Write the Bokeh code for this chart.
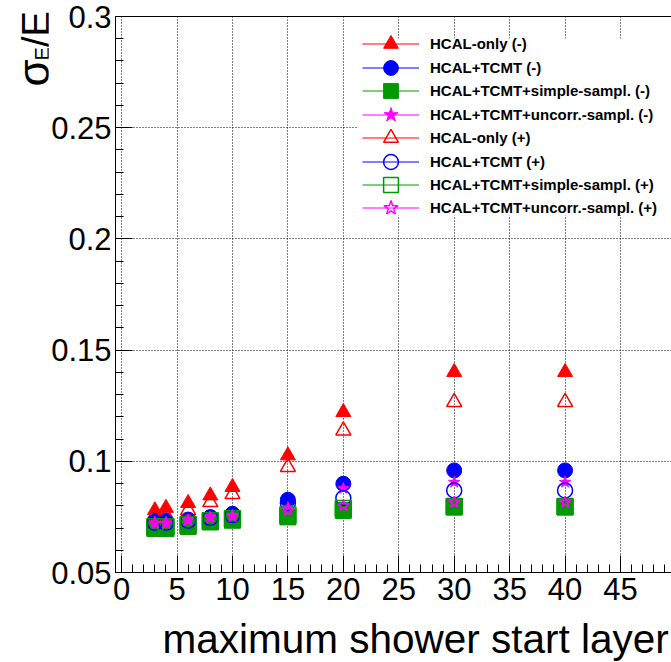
import math
from bokeh.plotting import figure
from bokeh.layouts import row, column
from bokeh.core.properties import value
from bokeh.models import (Legend, LegendItem, LinearAxis, FixedTicker, BoxAnnotation,
                          CustomJSTickFormatter, Range1d)
from bokeh.embed import file_html
from bokeh.resources import INLINE

# ---- data ----
shower_start = [3, 4, 6, 8, 10, 15, 20, 30, 40]
hcal_minus = [0.0779, 0.0790, 0.0812, 0.0846, 0.0884, 0.1026, 0.1221, 0.1401, 0.1401]
tcmt_minus = [0.0733, 0.0733, 0.0738, 0.0749, 0.0764, 0.0827, 0.0899, 0.0959, 0.0959]
simple_minus = [0.0698, 0.0698, 0.0707, 0.0727, 0.0735, 0.0750, 0.0779, 0.0794, 0.0794]
uncorr_minus = [0.0727, 0.0726, 0.0741, 0.0752, 0.0757, 0.0792, 0.0878, 0.0906, 0.0906]
hcal_plus = [0.0749, 0.0757, 0.0780, 0.0816, 0.0852, 0.0974, 0.1138, 0.1266, 0.1266]
tcmt_plus = [0.0724, 0.0724, 0.0733, 0.0745, 0.0758, 0.0812, 0.0835, 0.0869, 0.0869]
simple_plus = [0.0706, 0.0706, 0.0716, 0.0733, 0.0742, 0.0758, 0.0788, 0.0797, 0.0797]
uncorr_plus = [0.0721, 0.0721, 0.0735, 0.0747, 0.0752, 0.0780, 0.0801, 0.0816, 0.0816]

labels = ["HCAL-only (-)", "HCAL+TCMT (-)", "HCAL+TCMT+simple-sampl. (-)",
          "HCAL+TCMT+uncorr.-sampl. (-)", "HCAL-only (+)", "HCAL+TCMT (+)",
          "HCAL+TCMT+simple-sampl. (+)", "HCAL+TCMT+uncorr.-sampl. (+)"]
values = [hcal_minus, tcmt_minus, simple_minus, uncorr_minus,
          hcal_plus, tcmt_plus, simple_plus, uncorr_plus]

x_ticks = [0, 5, 10, 15, 20, 25, 30, 35, 40, 45]
y_ticks = [0.05, 0.1, 0.15, 0.2, 0.25, 0.3]
x_title = "maximum shower start layer"
y_title = ["σ", "E", "/E"]

RED, BLUE, GREEN, MAGENTA = "#ff0000", "#0000ff", "#009900", "#ff00ff"
styles = [
    ("triangle", RED, True, 15),
    ("circle", BLUE, True, 15),
    ("square", GREEN, True, 16),
    ("star", MAGENTA, True, 12),
    ("triangle", RED, False, 15),
    ("circle", BLUE, False, 15),
    ("square", GREEN, False, 16),
    ("star", MAGENTA, False, 12),
]

FONT = "Liberation Sans"
LEFT_W = 48          # visible width of the y-title strip
STRIP_W = 60         # real width (overlapped by the main plot by STRIP_W-LEFT_W)
BOTTOM_H = 45
W, H = 671, 662

# ---------------- main plot ----------------
p = figure(width=W - LEFT_W, height=H - BOTTOM_H, output_backend="svg",
           toolbar_location=None,
           x_range=Range1d(-0.55, 49.6), y_range=Range1d(0.05, 0.3),
           min_border_left=113 - LEFT_W, min_border_right=0, min_border_top=16,
           min_border_bottom=BOTTOM_H)
p.outline_line_color = None
p.background_fill_color = "white"
p.border_fill_color = "white"

x_minor = [float(i) for i in range(0, 50)]
y_minor = [round(0.05 + 0.01 * i, 2) for i in range(26)]
xt = FixedTicker(ticks=x_ticks, minor_ticks=x_minor)
yt = FixedTicker(ticks=y_ticks, minor_ticks=y_minor)
p.xaxis[0].ticker = xt
p.yaxis[0].ticker = yt
p.xgrid[0].ticker = xt
p.ygrid[0].ticker = yt
p.yaxis[0].formatter = CustomJSTickFormatter(code="return String(parseFloat(tick.toFixed(3)));")

for ax in (p.xaxis[0], p.yaxis[0]):
    ax.major_tick_in = 17
    ax.major_tick_out = 0
    ax.minor_tick_in = 8
    ax.minor_tick_out = 0
    ax.major_tick_line_color = "black"
    ax.minor_tick_line_color = "black"
    ax.axis_line_color = "black"
    ax.axis_line_width = 1
    ax.major_label_text_font = FONT
    ax.major_label_text_font_size = "31px"
    ax.major_label_text_color = "black"
p.yaxis[0].major_label_standoff = 4
p.xaxis[0].major_label_standoff = 5

for g in (p.xgrid[0], p.ygrid[0]):
    g.grid_line_color = "black"
    g.grid_line_alpha = 1.0
    g.grid_line_dash = "1 2"
    g.grid_line_width = 1

top = LinearAxis(ticker=FixedTicker(ticks=[]), major_label_text_font_size="0px",
                 major_tick_out=0, major_tick_in=0, minor_tick_in=0, minor_tick_out=0,
                 axis_line_color="black", major_label_standoff=0)
p.add_layout(top, "above")

# white legend background box (screen units relative to the frame)
p.add_layout(BoxAnnotation(left=242, right=600, bottom=357, top=534,
                           left_units="screen", right_units="screen",
                           bottom_units="screen", top_units="screen",
                           fill_color="white", fill_alpha=1.0, line_color=None))

nan_y = [float("nan")] * len(shower_start)
for i, (lab, ys, (marker, color, filled, size)) in enumerate(zip(labels, values, styles)):
    r = p.scatter(x=shower_start, y=ys, marker=marker, size=size,
                  line_color=color, fill_color=color if filled else None,
                  line_width=1 if filled else 1.5)
    ln = p.line(x=shower_start, y=nan_y, line_color=color, line_width=1)
    center = 44 + 23.4 * i            # row centre, canvas px
    gh = 37
    leg = Legend(items=[LegendItem(label=lab, renderers=[ln, r])],
                 location=(360 - 113, round(572 - (center + gh / 2))),
                 glyph_width=57, glyph_height=gh, spacing=0, padding=0, margin=0,
                 label_standoff=11, label_text_font=FONT,
                 label_text_font_style="bold", label_text_font_size="15px",
                 label_text_color="black", background_fill_alpha=0,
                 border_line_color=None)
    p.add_layout(leg)

# ---------------- y title strip ----------------
pl = figure(width=STRIP_W, height=H, output_backend="svg", toolbar_location=None,
            x_range=Range1d(0, STRIP_W), y_range=Range1d(0, H),
            x_axis_type=None, y_axis_type=None, min_border=0)
pl.outline_line_color = None
pl.border_fill_color = "white"
# (text_baseline "middle": anchor = baseline - 0.31 * font size)
pl.text(x=[33.4], y=[H - 86], text=[y_title[0]], angle=math.pi / 2,
        text_align="left", text_baseline="middle",
        text_font=value(FONT), text_font_size="44px", text_color="black")
pl.text(x=[41.8], y=[H - 60], text=[y_title[1]], angle=math.pi / 2,
        text_align="left", text_baseline="middle",
        text_font=value(FONT), text_font_size="20px", text_color="black")
pl.text(x=[35.2], y=[H - 46.5], text=[y_title[2]], angle=math.pi / 2,
        text_align="left", text_baseline="middle",
        text_font=value(FONT), text_font_size="38px", text_color="black")

overlap = STRIP_W - LEFT_W
try:
    pl.margin = (0, -overlap, 0, 0)
except Exception:
    pl.width = LEFT_W
    pl.x_range = Range1d(0, LEFT_W)

# ---------------- x title strip ----------------
pb = figure(width=W - LEFT_W, height=BOTTOM_H, output_backend="svg",
            toolbar_location=None,
            x_range=Range1d(0, W - LEFT_W), y_range=Range1d(0, BOTTOM_H),
            x_axis_type=None, y_axis_type=None, min_border=0)
pb.outline_line_color = None
pb.border_fill_color = "white"
pb.text(x=[668 - LEFT_W], y=[23.4], text=[x_title], text_align="right",
        text_baseline="middle", text_font=value(FONT),
        text_font_size="40.5px", text_color="black")

layout = row(pl, column(p, pb, spacing=0), spacing=0)
open("out.html", "w").write(file_html(layout, INLINE))
